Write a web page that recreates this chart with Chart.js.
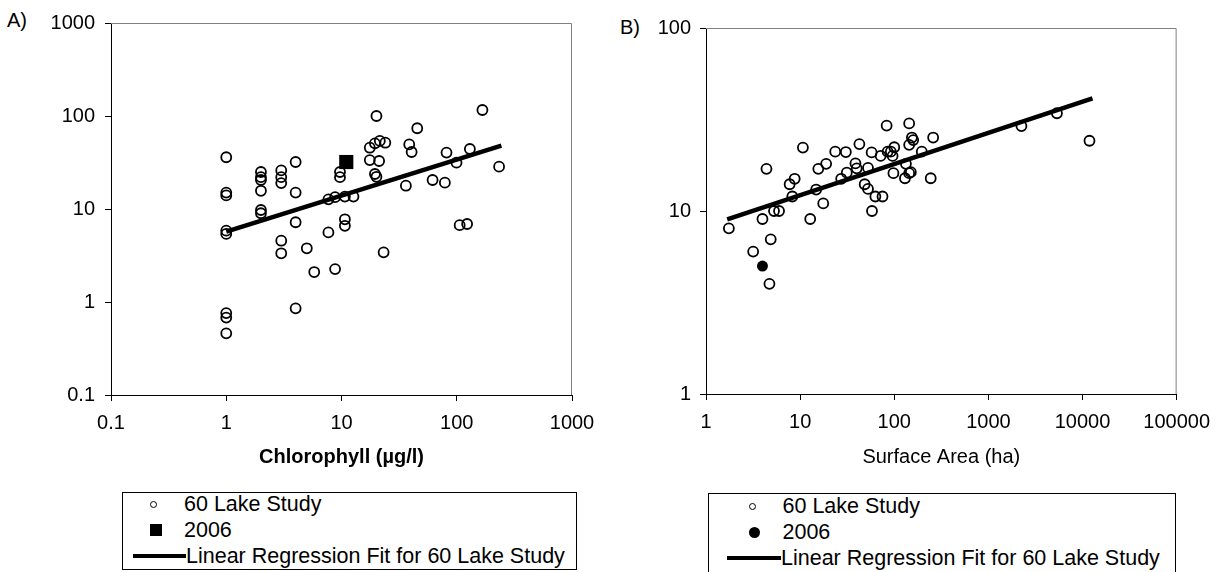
<!DOCTYPE html>
<html>
<head>
<meta charset="utf-8">
<script src="https://cdn.jsdelivr.net/npm/chart.js@4/dist/chart.umd.min.js"></script>
<style>
  body { margin:0; width:1220px; height:572px; overflow:hidden; background:#fff;
         font-family:"Liberation Sans", Arial, sans-serif; position:relative; }
  .wrap { position:absolute; top:0; height:572px; }
  .tag { position:absolute; font-size:20px; line-height:20px; color:#000; }
  .legend { position:absolute; border:1px solid #000; background:#fff; box-sizing:border-box; }
  .legend .txt { position:absolute; font-size:21.5px; line-height:24px; white-space:nowrap; color:#000; }
  .legend .mk { position:absolute; box-sizing:border-box; }
</style>
</head>
<body>
<div class="tag" style="left:7px;top:10px;">A)</div>
<div class="tag" style="left:620px;top:17px;">B)</div>

<div class="wrap" style="left:0;width:620px;"><canvas id="chartA" width="620" height="572"></canvas></div>
<div class="wrap" style="left:610px;width:610px;"><canvas id="chartB" width="610" height="572"></canvas></div>

<div class="legend" id="legendA" style="left:122px;top:492px;width:455px;height:78px;"></div>
<div class="legend" id="legendB" style="left:708px;top:493px;width:468px;height:82px;"></div>

<script>
// panel A - chlorophyll
var chlTicks = [0.1, 1, 10, 100, 1000];
var chlTickLabels = ['0.1', '1', '10', '100', '1000'];
var lakeChlX = [1, 1, 1, 1, 1, 1, 1, 1,
  2, 2, 2, 2, 2, 2,
  3, 3, 3, 3, 3,
  4, 4, 4, 4,
  5, 5.8, 7.7, 7.7, 8.8, 8.8,
  9.7, 9.7, 10.7, 10.7, 10.7, 12.7,
  17.6, 17.6, 19.5, 19.5, 20.1, 20.1,
  21.5, 21.2, 23.2, 24, 36.2, 38.7, 40.6, 45.4,
  61.7, 78.9, 81.5, 99.5, 106, 123, 130, 167, 233];
var lakeChlY = [36, 15, 14, 5.85, 5.4, 0.76, 0.68, 0.46,
  25, 22, 20.5, 15.7, 9.75, 9,
  26, 22, 19, 4.56, 3.34,
  32, 15, 7.2, 0.855,
  3.78, 2.1, 12.7, 5.6, 13.4, 2.26,
  25, 22, 13.6, 7.75, 6.6, 13.6,
  45.6, 33.6, 50.8, 23.8, 100, 22.2,
  54, 32.8, 3.42, 51.6, 17.8, 49.5, 41, 73.8,
  20.5, 19.2, 40.4, 31.5, 6.7, 6.9, 44.2, 116, 28.5];
var chl2006X = [11];
var chl2006Y = [32];
var chlFitX = [1, 244];
var chlFitY = [5.7, 48];

// panel B - surface area
var areaTicks = [1, 10, 100, 1000, 10000, 100000];
var areaTickLabels = ['1', '10', '100', '1000', '10000', '100000'];
var areaYTicks = [1, 10, 100];
var areaYTickLabels = ['1', '10', '100'];
var lakeAreaX = [1.75, 3.17, 3.98, 4.39, 4.87, 4.72, 5.28, 5.97,
  7.74, 8.75, 8.26, 10.7, 12.8, 14.8, 15.6, 17.6, 18.9,
  23.6, 30.6, 27.3, 31.3, 42.6, 38.7, 39.9, 52.6, 48.5, 52.6,
  57.5, 58, 63, 75, 71.7, 83, 85, 92, 96, 100, 98,
  133, 130, 144, 150, 144, 144, 154, 159, 196, 259, 244,
  2245, 5350, 11860];
var lakeAreaY = [8.04, 6.0, 9.04, 17, 7.0, 4.0, 10, 10,
  14, 15, 12, 22.2, 9.04, 13.1, 17, 11, 18.1,
  21.1, 21, 15, 16.2, 23.2, 18.2, 17.1, 17.2, 14, 13.2,
  20.9, 10, 12, 12, 20, 29.3, 21.1, 21.1, 20, 22.3, 16.1,
  18.1, 15.1, 16.1, 16.3, 30.1, 23, 25.2, 24.4, 21.1, 25.2, 15.1,
  29.1, 34.2, 24.2];
var area2006X = [3.98];
var area2006Y = [5.0];
var areaFitX = [1.68, 12770];
var areaFitY = [9.0, 41.3];

var seriesNames = ['60 Lake Study', '2006', 'Linear Regression Fit for 60 Lake Study'];

var FONT = '"Liberation Sans", Arial, sans-serif';

function pts(xs, ys) {
  return xs.map(function(x, i) { return {x: x, y: ys[i]}; });
}

// gray frame on top and right of the plot area
var framePlugin = {
  id: 'frame',
  beforeDatasetsDraw: function(chart) {
    var a = chart.chartArea, ctx = chart.ctx;
    ctx.save();
    ctx.strokeStyle = '#808080';
    ctx.lineWidth = 1;
    ctx.beginPath();
    ctx.moveTo(a.left, a.top + 0.5);
    ctx.lineTo(a.right - 0.5, a.top + 0.5);
    ctx.lineTo(a.right - 0.5, a.bottom);
    ctx.stroke();
    ctx.restore();
  }
};

function logAxis(min, max, ticks, labels, pad, extra) {
  var ax = {
    type: 'logarithmic',
    min: min,
    max: max,
    afterBuildTicks: function(s) { s.ticks = ticks.map(function(v) { return {value: v}; }); },
    ticks: {
      autoSkip: false, maxRotation: 0, color: '#000', padding: pad,
      font: {family: FONT, size: 20},
      callback: function(v, i) { return labels[i]; }
    },
    grid: { drawOnChartArea: false, drawTicks: true, tickLength: 6, color: '#000' },
    border: { display: true, color: '#000', width: 1 }
  };
  for (var k in extra) ax[k] = extra[k];
  return ax;
}

function makeChart(id, cfg) {
  return new Chart(document.getElementById(id), {
    type: 'scatter',
    data: {
      datasets: [
        {
          label: seriesNames[2], data: pts(cfg.fitX, cfg.fitY), showLine: true,
          borderColor: '#000', borderWidth: 4.5, pointRadius: 0, fill: false
        },
        {
          label: seriesNames[1], data: pts(cfg.newX, cfg.newY),
          pointStyle: cfg.newStyle, pointRadius: cfg.newRadius,
          backgroundColor: '#000', borderColor: '#000', borderWidth: 0
        },
        {
          label: seriesNames[0], data: pts(cfg.lakeX, cfg.lakeY),
          pointStyle: 'circle', pointRadius: 5, borderWidth: 1.8,
          borderColor: '#000', backgroundColor: 'rgba(0,0,0,0)'
        }
      ]
    },
    options: {
      responsive: false,
      animation: false,
      devicePixelRatio: 1,
      events: [],
      layout: { padding: cfg.padding },
      plugins: { legend: { display: false }, tooltip: { enabled: false } },
      scales: { x: cfg.x, y: cfg.y }
    },
    plugins: [framePlugin]
  });
}

makeChart('chartA', {
  lakeX: lakeChlX, lakeY: lakeChlY, newX: chl2006X, newY: chl2006Y,
  fitX: chlFitX, fitY: chlFitY, newStyle: 'rect', newRadius: 10,
  padding: {left: 0, top: 23, right: 48, bottom: 0},
  x: logAxis(0.1, 1000, chlTicks, chlTickLabels, 10, {
    title: { display: true, text: 'Chlorophyll (µg/l)', color: '#000',
             font: {family: FONT, size: 20, weight: 'bold'}, padding: {top: 0, bottom: 103} },
    afterFit: function(s) { s.height = 177; }
  }),
  y: logAxis(0.1, 1000, chlTicks, chlTickLabels, 10, {
    afterFit: function(s) { s.width = 111; }
  })
});

makeChart('chartB', {
  lakeX: lakeAreaX, lakeY: lakeAreaY, newX: area2006X, newY: area2006Y,
  fitX: areaFitX, fitY: areaFitY, newStyle: 'circle', newRadius: 5.5,
  padding: {left: 0, top: 28, right: 42, bottom: 0},
  x: logAxis(1, 100000, areaTicks, areaTickLabels, 10, {
    title: { display: true, text: 'Surface Area (ha)', color: '#000',
             font: {family: FONT, size: 20}, padding: {top: 0, bottom: 103} },
    afterFit: function(s) { s.height = 178; }
  }),
  y: logAxis(1, 100, areaYTicks, areaYTickLabels, 9, {
    afterFit: function(s) { s.width = 96; }
  })
});

// html legends built from the series names
function makeLegend(id, o) {
  var box = document.getElementById(id);
  var rows = [o.row0, o.row1, o.row2];
  var html = '';
  // open circle
  html += '<div class="mk" style="left:' + (o.mx - 3.5) + 'px;top:' + (rows[0] - 3.5) +
    'px;width:7px;height:7px;border:1.7px solid #000;border-radius:50%;"></div>';
  // 2006 marker
  var s = o.newSize;
  html += '<div class="mk" style="left:' + (o.mx2 - s / 2) + 'px;top:' + (rows[1] - s / 2) +
    'px;width:' + s + 'px;height:' + s + 'px;background:#000;' +
    (o.round ? 'border-radius:50%;' : '') + '"></div>';
  // fit line
  html += '<div class="mk" style="left:' + o.lx0 + 'px;top:' + (rows[2] - 2) +
    'px;width:' + (o.lx1 - o.lx0) + 'px;height:4px;background:#000;"></div>';
  html += '<div class="txt" style="left:' + o.tx + 'px;top:' + (rows[0] - 12) + 'px;">' + seriesNames[0] + '</div>';
  html += '<div class="txt" style="left:' + o.tx + 'px;top:' + (rows[1] - 12) + 'px;">' + seriesNames[1] + '</div>';
  html += '<div class="txt" style="left:' + o.lx1 + 'px;top:' + (rows[2] - 12) + 'px;">' + seriesNames[2] + '</div>';
  box.innerHTML = html;
}

makeLegend('legendA', {row0: 11, row1: 37, row2: 63, mx: 30, mx2: 33, newSize: 12,
  round: false, lx0: 10, lx1: 63, tx: 61});
makeLegend('legendB', {row0: 12, row1: 38, row2: 63.5, mx: 43.5, mx2: 45, newSize: 11,
  round: true, lx0: 18, lx1: 72, tx: 73.5});
</script>
</body>
</html>
